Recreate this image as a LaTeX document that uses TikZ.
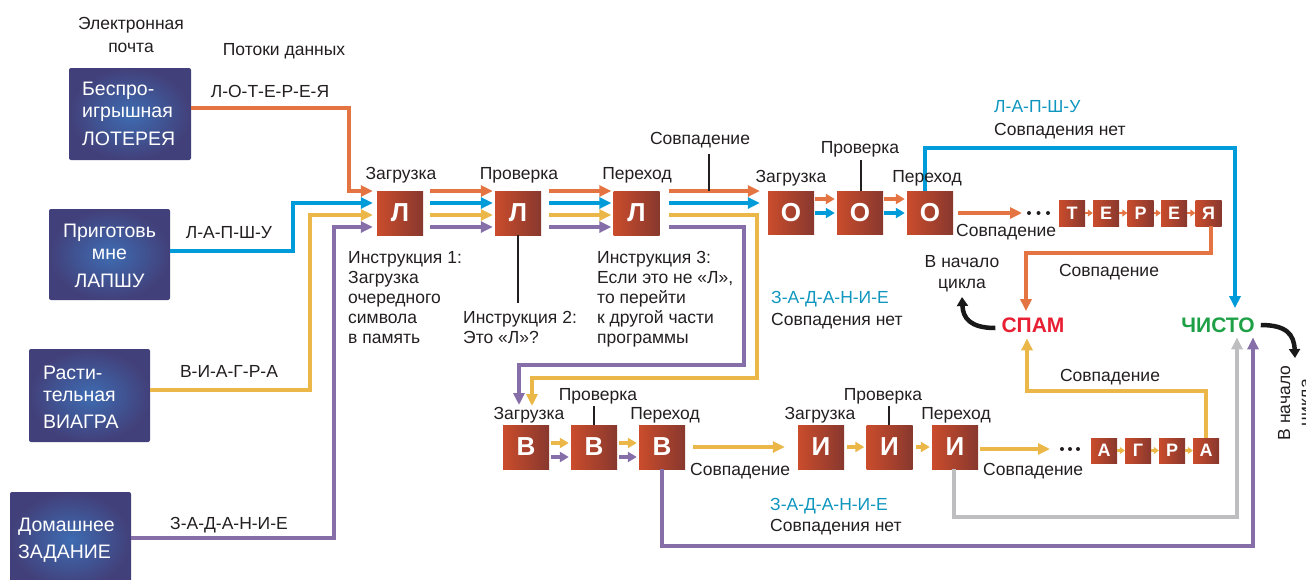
\documentclass[tikz,border=0pt]{standalone}
\usepackage{fontspec}
\setmainfont{Liberation Sans}
\usetikzlibrary{arrows.meta}
\definecolor{cO}{RGB}{228,116,66}
\definecolor{cB}{RGB}{0,156,218}
\definecolor{cY}{RGB}{234,183,72}
\definecolor{cP}{RGB}{134,110,168}
\definecolor{cG}{RGB}{190,190,192}
\definecolor{cT}{RGB}{15,150,190}
\definecolor{txt}{RGB}{35,31,32}
\definecolor{spam}{RGB}{232,30,50}
\definecolor{clean}{RGB}{30,160,70}
\definecolor{boxL}{RGB}{202,76,44}
\definecolor{boxR}{RGB}{136,56,46}
\definecolor{srcIn}{RGB}{62,108,178}
\definecolor{srcOut}{RGB}{66,64,122}
\begin{document}
\begin{tikzpicture}[x=1pt,y=-1pt,
  lbl/.style={font=\fontsize{17.5}{20}\selectfont, text=txt, inner sep=0pt},
  cyl/.style={lbl, text=cT},
  srctxt/.style={font=\fontsize{19.5}{22}\selectfont, text=white, inner sep=0pt},
  srcbox/.style={rounded corners=2pt, shading=radial, inner color=srcIn, outer color=srcOut, draw=none, inner sep=0pt},
  lbox/.style={left color=boxL, right color=boxR, draw=none, text=white, font=\fontsize{26}{28}\selectfont\bfseries, minimum width=46pt, minimum height=44pt, inner sep=0pt},
  sbox/.style={left color=boxL, right color=boxR, draw=none, text=white, font=\fontsize{18}{20}\selectfont\bfseries, minimum width=26pt, minimum height=26pt, inner sep=0pt},
  arr/.style={line width=4pt, -{Triangle[length=12pt,width=11pt]}},
  sarr/.style={line width=3.5pt, -{Triangle[length=9pt,width=10pt]}},
  tarr/.style={line width=2.5pt, -{Triangle[length=5pt,width=7pt]}},
  karr/.style={line width=4.5pt, draw=black!90, -{Triangle[length=9pt,width=11pt]}},
  tick/.style={line width=1.2pt, draw=txt},
  res/.style={font=\fontsize{21}{24}\selectfont\bfseries, inner sep=0pt}
]
\useasboundingbox (0,0) rectangle (1306,579);
\clip (0,0) rectangle (1306,579);

% headers
\node[lbl, anchor=base] (h1) at (131,29.5) {Электронная};
\node[lbl, anchor=base] (h2) at (131,52) {почта};
\node[lbl, anchor=base] (h3) at (284,55) {Потоки данных};

% source boxes
\node[srcbox, minimum width=122pt, minimum height=92pt] (s1) at (130,114) {};
\node[srcbox, minimum width=121pt, minimum height=91pt] (s2) at (109.5,254.5) {};
\node[srcbox, minimum width=121pt, minimum height=93pt] (s3) at (89.5,395.5) {};
\node[srcbox, minimum width=121pt, minimum height=96pt] (s4) at (70.5,540) {};
\node[srctxt, anchor=base west, align=left] (t1) at (82,145) {Беспро-\\игрышная\\[6pt]ЛОТЕРЕЯ};
\node[srctxt, anchor=base, align=center] (t2) at (109.5,287) {Приготовь\\мне\\[6pt]ЛАПШУ};
\node[srctxt, anchor=base west, align=left] (t3) at (43,428) {Расти-\\тельная\\[5pt]ВИАГРА};
\node[srctxt, anchor=base west, align=left] (t4) at (18,558) {Домашнее\\[5pt]ЗАДАНИЕ};

% stream labels
\node[lbl, anchor=base] (d1) at (270,97) {Л-О-Т-Е-Р-Е-Я};
\node[lbl, anchor=base] (d2) at (229,238) {Л-А-П-Ш-У};
\node[lbl, anchor=base] (d3) at (229,377) {В-И-А-Г-Р-А};
\node[lbl, anchor=base] (d4) at (229,529) {З-А-Д-А-Н-И-Е};

% row 1 boxes
\node[lbox] (L1) at (400,213) {Л};
\node[lbox] (L2) at (518,213) {Л};
\node[lbox] (L3) at (636.5,213) {Л};
\node[lbox, minimum height=43pt] (O1) at (791,212.5) {О};
\node[lbox, minimum height=43pt] (O2) at (860,212.5) {О};
\node[lbox, minimum height=43pt] (O3) at (930,212.5) {О};
\node[sbox] (q1) at (1072,213) {Т};
\node[sbox] (q2) at (1106,213) {Е};
\node[sbox] (q3) at (1140.5,213) {Р};
\node[sbox] (q4) at (1174,213) {Е};
\node[sbox] (q5) at (1208.5,213) {Я};

% row 2 boxes
\node[lbox] (B1) at (526,447) {В};
\node[lbox] (B2) at (594,447) {В};
\node[lbox] (B3) at (662,447) {В};
\node[lbox] (I1) at (821,447) {И};
\node[lbox] (I2) at (889.5,447) {И};
\node[lbox] (I3) at (955,447) {И};
\node[sbox, minimum height=25pt] (r1) at (1104,450.5) {А};
\node[sbox, minimum height=25pt] (r2) at (1138,450.5) {Г};
\node[sbox, minimum height=25pt] (r3) at (1172,450.5) {Р};
\node[sbox, minimum height=25pt] (r4) at (1206,450.5) {А};

% results
\node[res, text=spam, anchor=base] (spam) at (1033,332) {СПАМ};
\node[res, text=clean, anchor=base] (clean) at (1218,332) {ЧИСТО};

% source flows
\draw[arr, cO, shorten >=4pt] (s1.east |- 0,108) -| (349,191) -- (L1.west |- 0,191);
\draw[arr, cB, shorten >=4pt] (s2.east |- 0,251) -| (293,203) -- (L1.west |- 0,203);
\draw[arr, cY, shorten >=4pt] (s3.east |- 0,390) -| (310,215) -- (L1.west |- 0,215);
\draw[arr, cP, shorten >=4pt] (s4.east |- 0,538) -| (334,227) -- (L1.west |- 0,227);

% L to L
\foreach \yy/\cc in {191/cO,203/cB,215/cY,227/cP}{
  \draw[arr, \cc, shorten <=7pt, shorten >=2pt] (L1.east |- 0,\yy) -- (L2.west |- 0,\yy);
  \draw[arr, \cc, shorten <=8pt, shorten >=2pt] (L2.east |- 0,\yy) -- (L3.west |- 0,\yy);
}
\draw[arr, cO, shorten <=9pt, shorten >=8pt] (L3.east |- 0,191) -- (O1.west |- 0,191);
\draw[arr, cB, shorten <=9pt, shorten >=8pt] (L3.east |- 0,203) -- (O1.west |- 0,203);
\coordinate (yB) at (532,406);
\coordinate (pB) at (519,405);
\draw[arr, cY, shorten <=9pt] (L3.east |- 0,215) -- (757,215) -- (757,378) -| (yB);
\draw[arr, cP, shorten <=9pt] (L3.east |- 0,227) -- (744,227) -- (744,365) -| (pB);

% O arrows
\draw[sarr, cO, shorten <=1pt, shorten >=2pt] (O1.east |- 0,199) -- (O2.west |- 0,199);
\draw[sarr, cB, shorten <=1pt, shorten >=2pt] (O1.east |- 0,213) -- (O2.west |- 0,213);
\draw[sarr, cO, shorten <=1pt, shorten >=2pt] (O2.east |- 0,199) -- (O3.west |- 0,199);
\draw[sarr, cB, shorten <=1pt, shorten >=2pt] (O2.east |- 0,213) -- (O3.west |- 0,213);
\coordinate (dotsA) at (1026,213);
\draw[arr, cO, shorten <=5pt, shorten >=4pt] (O3.east |- 0,213) -- (dotsA);
\foreach \xx in {1029,1038.5,1048}{\fill[txt] (\xx,213) circle (2pt);}
\draw[tarr, cO] (q1.east) -- (q2.west);
\draw[tarr, cO] (q2.east) -- (q3.west);
\draw[tarr, cO] (q3.east) -- (q4.west);
\draw[tarr, cO] (q4.east) -- (q5.west);

% Я to SPAM
\draw[arr, cO, shorten >=6pt] (q5.south -| 1211,0) -- (1211,253) -| (spam.north -| 1026,0);
% O3 to CLEAN (no match)
\draw[arr, cB, shorten >=9pt] (O3.north -| 925,0) -- (925,148) -| (clean.north -| 1235,0);

% B row arrows
\draw[sarr, cY, shorten <=2pt, shorten >=2pt] (B1.east |- 0,443) -- (B2.west |- 0,443);
\draw[sarr, cP, shorten <=2pt, shorten >=2pt] (B1.east |- 0,457) -- (B2.west |- 0,457);
\draw[sarr, cY, shorten <=2pt, shorten >=2pt] (B2.east |- 0,443) -- (B3.west |- 0,443);
\draw[sarr, cP, shorten <=2pt, shorten >=2pt] (B2.east |- 0,457) -- (B3.west |- 0,457);
\draw[arr, cY, shorten <=8pt, shorten >=13pt] (B3.east |- 0,447) -- (I1.west |- 0,447);
\draw[sarr, cY, shorten <=3pt, shorten >=2pt] (I1.east |- 0,447) -- (I2.west |- 0,447);
\draw[sarr, cY, shorten <=3pt, shorten >=2pt] (I2.east |- 0,447) -- (I3.west |- 0,447);
\coordinate (dotsB) at (1058,449);
\draw[arr, cY, shorten <=2pt, shorten >=8pt] (I3.east |- 0,449) -- (dotsB);
\foreach \xx in {1062,1070,1078}{\fill[txt] (\xx,449) circle (2pt);}
\draw[tarr, cY] (r1.east) -- (r2.west);
\draw[tarr, cY] (r2.east) -- (r3.west);
\draw[tarr, cY] (r3.east) -- (r4.west);

% A to SPAM, mismatches to CLEAN
\draw[arr, cY, shorten >=6pt] (r4.north) -- (1206,391) -| (spam.south -| 1027,0);
\draw[arr, cG, shorten >=5pt] (I3.south -| 954,0) -- (954,517) -| (clean.south -| 1237,0);
\draw[arr, cP, shorten >=5pt] (B3.south) -- (662,546) -| (clean.south -| 1253,0);

% loop-back arrows
\coordinate (loopA) at (962,297);
\coordinate (loopB) at (1295,358);
\draw[karr] (spam.west |- 0,328) ++(-6,0) .. controls (970,328) and (963,318) .. (loopA);
\draw[karr] (clean.east |- 0,325) ++(6,0) .. controls (1286,325) and (1294,334) .. (loopB);

% labels row 1
\node[lbl, anchor=base] (a1) at (401,179) {Загрузка};
\node[lbl, anchor=base] (a2) at (519,179) {Проверка};
\node[lbl, anchor=base] (a3) at (637,179) {Переход};
\node[lbl, anchor=base] (m1) at (700,144) {Совпадение};
\draw[tick] (709,154) -- (709,191);
\node[lbl, anchor=base] (a4) at (791,182) {Загрузка};
\node[lbl, anchor=base] (a5) at (860,153) {Проверка};
\draw[tick] (861,160) -- (O2.north -| 861,0);
\node[lbl, anchor=base] (a6) at (927,182) {Переход};
\node[cyl, anchor=base west] (n1) at (994,112) {Л-А-П-Ш-У};
\node[lbl, anchor=base west] (n2) at (994,135) {Совпадения нет};
\node[lbl, anchor=base west] (m2) at (956,236) {Совпадение};
\node[lbl, anchor=base] (m3) at (1109,276) {Совпадение};
\node[lbl, anchor=base] (c1) at (962,267) {В начало};
\node[lbl, anchor=base] (c2) at (962,288) {цикла};
\node[cyl, anchor=base west] (n3) at (771,303) {З-А-Д-А-Н-И-Е};
\node[lbl, anchor=base west] (n4) at (771,325) {Совпадения нет};

% instructions
\node[lbl, anchor=base west, align=left] (i1) at (348,343) {Инструкция 1:\\Загрузка\\очередного\\символа\\в память};
\node[lbl, anchor=base west, align=left] (i2) at (463,343) {Инструкция 2:\\Это «Л»?};
\draw[tick] (L2.south -| 518,0) -- (518,303);
\node[lbl, anchor=base west, align=left] (i3) at (597,343) {Инструкция 3:\\Если это не «Л»,\\то перейти\\к другой части\\программы};

% labels row 2
\node[lbl, anchor=base] (b1) at (529,419) {Загрузка};
\node[lbl, anchor=base] (b2) at (598,400) {Проверка};
\draw[tick] (594,406) -- (B2.north -| 594,0);
\node[lbl, anchor=base] (b3) at (665,419) {Переход};
\node[lbl, anchor=base west] (m4) at (690,475) {Совпадение};
\node[lbl, anchor=base] (b4) at (820,419) {Загрузка};
\node[lbl, anchor=base] (b5) at (883,400) {Проверка};
\draw[tick] (889,406) -- (I2.north -| 889,0);
\node[lbl, anchor=base] (b6) at (956,419) {Переход};
\node[lbl, anchor=base west] (m5) at (983,475) {Совпадение};
\node[cyl, anchor=base west] (n5) at (770,510) {З-А-Д-А-Н-И-Е};
\node[lbl, anchor=base west] (n6) at (770,531) {Совпадения нет};
\node[lbl, anchor=base] (m6) at (1110,381) {Совпадение};

% rotated label
\node[lbl, anchor=base, rotate=90] (c3) at (1290,403) {В начало};
\node[lbl, anchor=base, rotate=90] (c4) at (1311,403) {цикла};
\end{tikzpicture}
\end{document}
